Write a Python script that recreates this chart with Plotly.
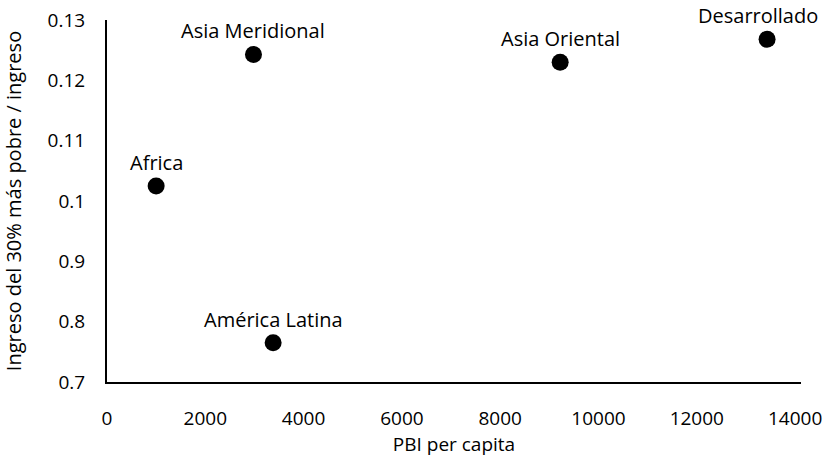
import plotly.graph_objects as go

regions = ["Africa", "Asia Meridional", "América Latina", "Asia Oriental", "Desarrollado"]
pbi_per_capita = [1000, 2980, 3380, 9220, 13430]
ingreso_ratio = [0.1025, 0.1243, 0.0765, 0.1230, 0.1268]

y_tick_vals = [0.07, 0.08, 0.09, 0.10, 0.11, 0.12, 0.13]
y_tick_text = ["0.7", "0.8", "0.9", "0.1", "0.11", "0.12", "0.13"]
x_tick_vals = [0, 2000, 4000, 6000, 8000, 10000, 12000, 14000]
x_tick_text = ["0", "2000", "4000", "6000", "8000", "10000", "12000", "14000"]

font_family = "Open Sans, DejaVu Sans, sans-serif"

fig = go.Figure(go.Scatter(
    x=pbi_per_capita,
    y=ingreso_ratio,
    mode="markers",
    marker=dict(size=17, color="black"),
    cliponaxis=False,
    hoverinfo="skip",
))

# labels above each point (the last one nudged left to stay inside the chart)
for name, xv, yv in zip(regions, pbi_per_capita, ingreso_ratio):
    fig.add_annotation(
        x=xv, y=yv, text=name, showarrow=False,
        xanchor="center", yanchor="bottom",
        yshift=8, xshift=(-9 if name == "Desarrollado" else 0),
        font=dict(family=font_family, size=20, color="black"),
    )

fig.update_layout(
    width=823, height=457,
    margin=dict(l=107, r=22, t=20, b=75),
    paper_bgcolor="white", plot_bgcolor="white",
    font=dict(family=font_family, size=19, color="black"),
    showlegend=False,
)
fig.update_xaxes(
    range=[0, 14120], tickvals=x_tick_vals, ticktext=x_tick_text,
    showline=True, linecolor="black", linewidth=2,
    showgrid=False, zeroline=False, ticks="",
    automargin=False,
    ticklabelstandoff=18,
    title=dict(text="PBI per capita", standoff=6, font=dict(size=19)),
)
fig.update_yaxes(
    range=[0.07, 0.13], tickvals=y_tick_vals, ticktext=y_tick_text,
    showline=True, linecolor="black", linewidth=2,
    showgrid=False, zeroline=False, ticks="",
    automargin=False,
    ticklabelstandoff=16,
    title=dict(text="Ingreso del 30% más pobre / ingreso", standoff=24, font=dict(size=20)),
)

fig.write_html("out.html", config={"displayModeBar": False},
               post_script="document.body.style.margin='0';")
